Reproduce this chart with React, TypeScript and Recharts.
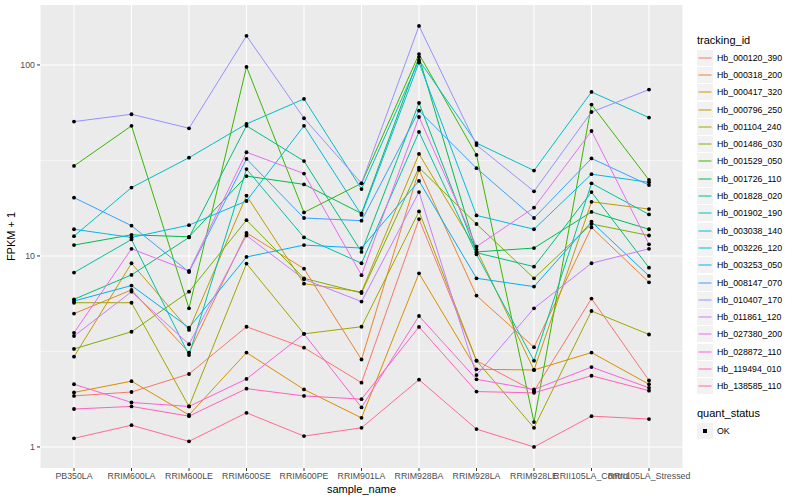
import { CartesianGrid, Line, LineChart, XAxis, YAxis } from "recharts";

const samples = [
	"PB350LA",
	"RRIM600LA",
	"RRIM600LE",
	"RRIM600SE",
	"RRIM600PE",
	"RRIM901LA",
	"RRIM928BA",
	"RRIM928LA",
	"RRIM928LE",
	"RRII105LA_Control",
	"RRII105LA_Stressed",
];

const trackingIds = [
	"Hb_000120_390",
	"Hb_000318_200",
	"Hb_000417_320",
	"Hb_000796_250",
	"Hb_001104_240",
	"Hb_001486_030",
	"Hb_001529_050",
	"Hb_001726_110",
	"Hb_001828_020",
	"Hb_001902_190",
	"Hb_003038_140",
	"Hb_003226_120",
	"Hb_003253_050",
	"Hb_008147_070",
	"Hb_010407_170",
	"Hb_011861_120",
	"Hb_027380_200",
	"Hb_028872_110",
	"Hb_119494_010",
	"Hb_138585_110",
];

const colors = [
	"#F8766D", "#EA8331", "#D89000", "#C09B00", "#A3A500",
	"#7CAE00", "#39B600", "#00BB4E", "#00BF7D", "#00C1A3",
	"#00BFC4", "#00BAE0", "#00B0F6", "#35A2FF", "#9590FF",
	"#C77CFF", "#E76BF3", "#FA62DB", "#FF62BC", "#FF6C91",
];

// FPKM + 1 per sample, in the order of `samples`
const hb000120_390 = [1.85, 1.94, 2.41, 4.26, 3.31, 2.17, 15.6, 2.83, 1.96, 5.98, 2.23];
const hb000318_200 = [4.99, 6.64, 3.12, 13.2, 8.58, 2.87, 28.2, 6.2, 3.33, 14.1, 7.28];
const hb000417_320 = [1.93, 2.21, 1.47, 3.12, 2.0, 1.42, 8.11, 2.55, 2.53, 3.12, 2.13];
const hb000796_250 = [2.97, 9.16, 4.1, 20.7, 7.16, 6.48, 34.2, 10.8, 2.53, 19.2, 17.6];
const hb001104_240 = [5.69, 5.69, 1.63, 9.12, 3.91, 4.26, 17.1, 2.83, 1.26, 5.15, 3.88];
const hb001486_030 = [3.26, 4.01, 6.5, 15.4, 7.64, 6.4, 29.0, 14.7, 7.64, 14.7, 12.8];
const hb001529_050 = [29.6, 48.0, 5.32, 97.7, 16.9, 24.0, 114, 33.8, 1.35, 62.0, 25.0];
const hb001726_110 = [11.4, 12.9, 12.6, 26.2, 23.7, 16.7, 110, 10.5, 11.0, 17.0, 13.8];
const hb001828_020 = [5.93, 7.96, 12.5, 48.0, 31.4, 10.5, 63.2, 10.4, 8.79, 21.6, 8.68];
const hb001902_190 = [8.18, 12.2, 3.03, 28.5, 12.5, 9.16, 44.6, 10.2, 2.83, 24.0, 16.5];
const hb003038_140 = [12.7, 22.8, 32.7, 49.1, 66.4, 22.4, 106, 39.0, 28.0, 72.2, 53.0];
const hb003226_120 = [13.8, 12.5, 14.5, 19.4, 48.0, 16.4, 103, 16.3, 13.8, 26.8, 24.3];
const hb003253_050 = [5.81, 7.0, 4.21, 9.88, 11.4, 11.0, 24.7, 7.64, 6.91, 15.1, 7.86];
const hb008147_070 = [20.2, 14.4, 8.24, 32.2, 15.8, 15.3, 57.6, 28.8, 15.8, 32.4, 23.5];
const hb010407_170 = [50.5, 55.2, 46.6, 142, 52.6, 24.0, 160, 38.1, 21.8, 56.7, 74.3];
const hb011861_120 = [3.81, 6.5, 3.45, 12.8, 7.55, 5.77, 21.6, 2.38, 5.32, 9.16, 10.9];
const hb027380_200 = [3.96, 10.9, 8.35, 34.9, 27.0, 7.93, 53.4, 11.2, 17.9, 45.1, 11.5];
const hb028872_110 = [2.13, 1.71, 1.63, 2.27, 3.91, 1.61, 4.85, 2.26, 2.0, 2.62, 2.04];
const hb119494_010 = [1.58, 1.63, 1.45, 2.02, 1.85, 1.78, 4.25, 1.95, 1.92, 2.36, 1.97];
const hb138585_110 = [1.11, 1.3, 1.07, 1.51, 1.14, 1.26, 2.25, 1.24, 1.0, 1.45, 1.4];

const seriesValues = [
	hb000120_390, hb000318_200, hb000417_320, hb000796_250, hb001104_240,
	hb001486_030, hb001529_050, hb001726_110, hb001828_020, hb001902_190,
	hb003038_140, hb003226_120, hb003253_050, hb008147_070, hb010407_170,
	hb011861_120, hb027380_200, hb028872_110, hb119494_010, hb138585_110,
];

const yTicks = [1, 10, 100];
const yMinor = [Math.sqrt(10), Math.sqrt(1000)];

const rows = samples.map((sample, i) => {
	const row: Record<string, number | string> = { sample };
	trackingIds.forEach((id, j) => {
		row[id] = seriesValues[j][i];
	});
	return row;
});

const font = "'Liberation Sans', Arial, sans-serif";

function LegendBox() {
	return (
		<div style={{ position: "absolute", left: 697, top: 31, width: 103, fontFamily: font, color: "#000" }}>
			<div style={{ fontSize: 11, height: 18, lineHeight: "18px" }}>tracking_id</div>
			{trackingIds.map((id, i) => (
				<div key={id} style={{ display: "flex", alignItems: "center", height: 17.3 }}>
					<svg width={16} height={16} style={{ marginRight: 4, display: "block" }}>
						<rect width={16} height={16} fill="#F2F2F2" />
						<line x1={1.5} x2={14.5} y1={8} y2={8} stroke={colors[i]} strokeWidth={1} />
					</svg>
					<span style={{ fontSize: 8.8 }}>{id}</span>
				</div>
			))}
			<div style={{ fontSize: 11, height: 18, lineHeight: "18px", marginTop: 9 }}>quant_status</div>
			<div style={{ display: "flex", alignItems: "center", height: 17.3 }}>
				<svg width={16} height={16} style={{ marginRight: 4, display: "block" }}>
					<rect width={16} height={16} fill="#F2F2F2" />
					<rect x={6} y={6} width={4} height={4} fill="#000" />
				</svg>
				<span style={{ fontSize: 8.8 }}>OK</span>
			</div>
		</div>
	);
}

export default function App() {
	return (
		<div style={{ position: "absolute", left: 0, top: 0, width: 800, height: 500, background: "#fff" }}>
			<LineChart
				width={800}
				height={500}
				data={rows}
				margin={{ top: 5, right: 117, left: 0, bottom: 0 }}
			>
				<CartesianGrid
					fill="#EBEBEB"
					stroke="#FFFFFF"
					strokeWidth={0.55}
					vertical={false}
					horizontalValues={yMinor}
				/>
				<CartesianGrid stroke="#FFFFFF" strokeWidth={1.1} horizontalValues={yTicks} />
				<XAxis
					dataKey="sample"
					interval={0}
					padding={{ left: 34, right: 34 }}
					height={32}
					axisLine={false}
					tickLine={{ stroke: "#333333" }}
					tickSize={3}
					tickMargin={2}
					tick={{ fontSize: 8.8, fill: "#4D4D4D", fontFamily: font }}
					label={{
						value: "sample_name",
						position: "insideBottom",
						offset: 7,
						fontSize: 11,
						fill: "#000",
						fontFamily: font,
					}}
				/>
				<YAxis
					scale="log"
					type="number"
					domain={[0.776, 206]}
					allowDataOverflow
					ticks={yTicks}
					width={40}
					axisLine={false}
					tickLine={{ stroke: "#333333" }}
					tickSize={3}
					tickMargin={2}
					tick={{ fontSize: 8.8, fill: "#4D4D4D", fontFamily: font }}
					label={{
						value: "FPKM + 1",
						angle: -90,
						position: "insideLeft",
						offset: 11,
						fontSize: 11,
						fill: "#000",
						fontFamily: font,
						style: { textAnchor: "middle" },
					}}
				/>
				{trackingIds.map((id, i) => (
					<Line
						key={id}
						dataKey={id}
						stroke={colors[i]}
						strokeWidth={1}
						dot={false}
						activeDot={false}
						type="linear"
						isAnimationActive={false}
					/>
				))}
				{trackingIds.map((id) => (
					<Line
						key={id + "_pt"}
						dataKey={id}
						stroke="none"
						legendType="none"
						dot={{ r: 1.9, fill: "#000", stroke: "none" }}
						activeDot={false}
						isAnimationActive={false}
					/>
				))}
			</LineChart>
			<LegendBox />
		</div>
	);
}
